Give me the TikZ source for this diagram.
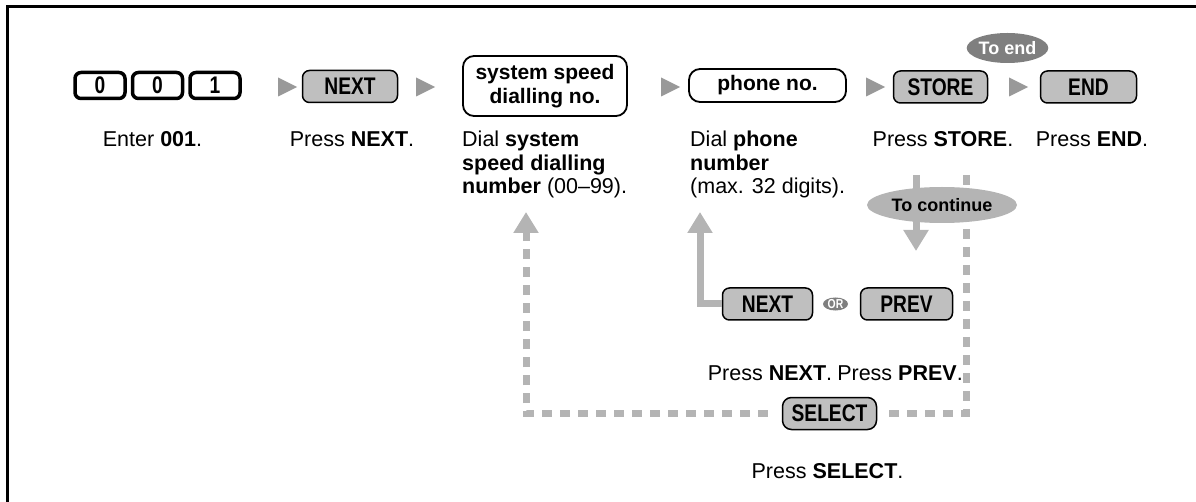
\documentclass[tikz,border=0pt]{standalone}
\usepackage{fontspec}
\setmainfont{Liberation Sans}
\newfontfamily\keyfont[FakeStretch=0.8]{Liberation Sans}
\usetikzlibrary{arrows.meta, positioning, shapes.geometric}

\definecolor{keygrey}{HTML}{BFBFBF}
\definecolor{tipgrey}{HTML}{999999}
\definecolor{flowgrey}{HTML}{B4B4B4}
\definecolor{badgegrey}{HTML}{7F7F7F}

\begin{document}
\begin{tikzpicture}[
			x = 1pt, y = -1pt,
			font = \fontsize{21.5}{23.5}\selectfont,
			keytext/.style = {font=\keyfont\bfseries\fontsize{24}{24}\selectfont},
			numkey/.style = {keytext, draw, line width=3.5pt, rounded corners=6pt, fill=white,
				minimum width=50pt, minimum height=26pt, inner sep=0pt},
			softkey/.style = {keytext, draw, line width=1.5pt, rounded corners=7pt, fill=keygrey,
				minimum height=32pt, inner sep=0pt},
			entry/.style = {draw, line width=1.8pt, rounded corners=11pt, align=center, inner sep=0pt,
				font=\bfseries\fontsize{21}{24}\selectfont},
			nexttip/.style = {isosceles triangle, isosceles triangle stretches, fill=tipgrey,
				minimum width=19pt, minimum height=19pt, inner sep=0pt},
			badge/.style = {ellipse, inner sep=0pt, font=\bfseries\fontsize{18}{18}\selectfont},
			flow/.style = {draw=flowgrey, line width=7pt},
			dottedflow/.style = {flow, dash pattern=on 10pt off 8pt},
			flowhead/.style = {-{Triangle[width=24pt, length=21pt]}},
			desc/.style = {anchor=base},
			longdesc/.style = {anchor=north west, align=left, inner sep=0pt}
			]
			\useasboundingbox (0,0) rectangle (1196,502);
			\draw[line width=3pt] (7,502) -- (7,7) -- (1196,7);
			
			% Define keys of the main row
			\node[numkey] (d0a) at (100,85.5) {0};
			\node[numkey, right=4pt of d0a] (d0b) {0};
			\node[numkey, right=4pt of d0b] (d1) {1};
			\node[softkey, minimum width=95pt] (next) at (350,86.5) {NEXT};
			\node[entry, minimum width=164pt, minimum height=60pt] (ssd) at (545,86) {system speed\\dialling no.};
			\node[entry, minimum width=157pt, minimum height=33pt] (phone) at (767.5,85.5) {phone no.};
			\node[softkey, minimum width=94pt] (store) at (940.5,87) {STORE};
			\node[softkey, minimum width=96pt] (endkey) at (1088.5,87) {END};
			\node[badge, fill=badgegrey, text=white, minimum width=81pt, minimum height=30pt] (toend) at (1007.5,48) {To end};
			\foreach \x [count=\i] in {284,422,667,872,1015}
				\node[nexttip] (t\i) at (\x,87) {};
			
			% Define descriptions
			\node[desc] (l1) at (152.5,147) {Enter \textbf{001}.};
			\node[desc] (l2) at (352,147) {Press \textbf{NEXT}.};
			\node[longdesc] (l3) at (462,131) {Dial \textbf{system}\\\textbf{speed dialling}\\\textbf{number} (00--99).};
			\node[longdesc] (l4) at (690,131) {Dial \textbf{phone}\\\textbf{number}\\(max. 32 digits).};
			\node[desc] (l5) at (943,147) {Press \textbf{STORE}.};
			\node[desc] (l6) at (1092,147) {Press \textbf{END}.};
			
			% Define keys of the loop
			\node[softkey, minimum width=90pt] (next2) at (767.5,304) {NEXT};
			\node[badge, fill=badgegrey, text=white, font=\keyfont\bfseries\fontsize{13}{13}\selectfont,
				minimum width=25pt, minimum height=13pt] (or) at (835.5,304) {OR};
			\node[softkey, minimum width=92pt] (prev) at (906.5,304) {PREV};
			\node[softkey, minimum width=94pt, rounded corners=9pt] (select) at (829.5,413.5) {SELECT};
			\node[desc] (l7) at (770,380) {Press \textbf{NEXT}.};
			\node[desc] (l8) at (900,380) {Press \textbf{PREV}.};
			\node[desc] (l9) at (827.5,478) {Press \textbf{SELECT}.};
			
			% Define flows
			\coordinate (upA) at (526,212);
			\coordinate (upB) at (700,212);
			\coordinate (downA) at (916,175);
			\coordinate (downB) at (916,251);
			\coordinate (loopA) at (966,175);
			\draw[dottedflow, flowhead, shorten <=14pt] (select.west) -| (upA);
			\draw[flow, flowhead] (next2.west) -| (upB);
			\draw[flow, flowhead] (downA) -- (downB);
			\draw[dottedflow, shorten >=9pt] (loopA) |- (select.east);
			\node[badge, fill=flowgrey, minimum width=150pt, minimum height=36pt] (cont) at (942,205) {To continue};
			
		\end{tikzpicture}
\end{document}
